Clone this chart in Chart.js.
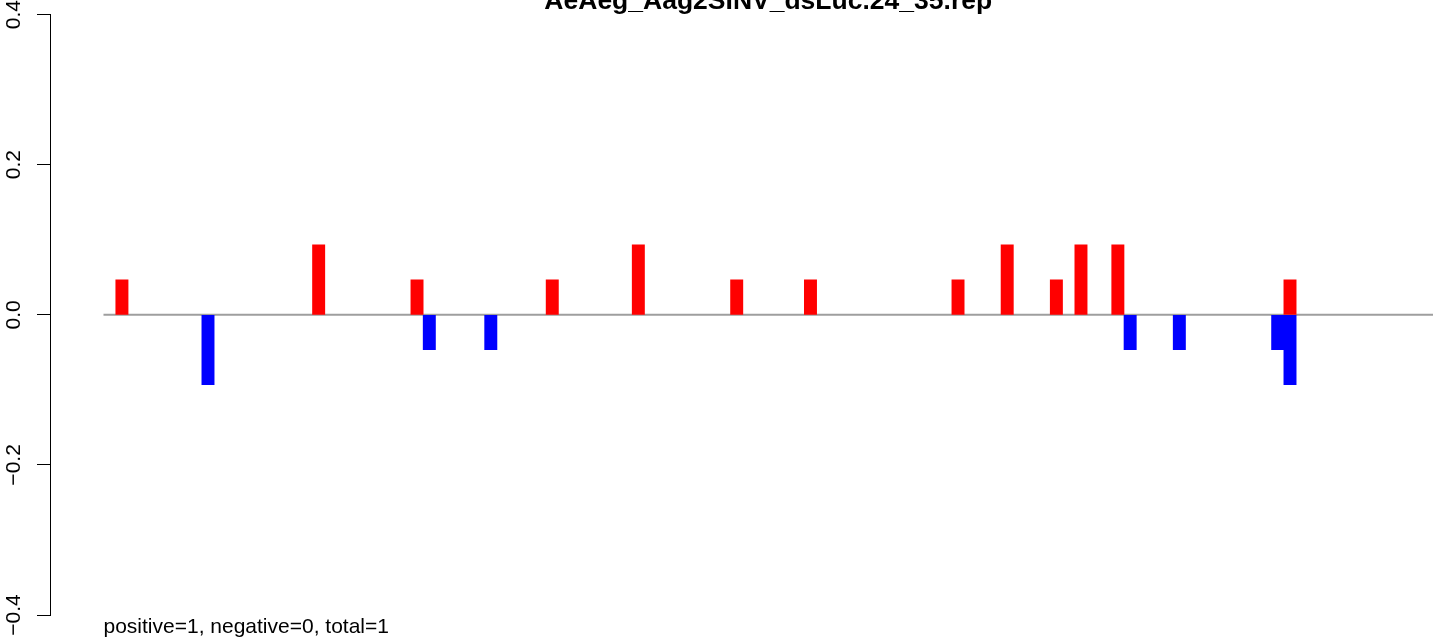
<!DOCTYPE html>
<html>
<head>
<meta charset="utf-8">
<script src="https://cdn.jsdelivr.net/npm/chart.js@4.4.0/dist/chart.umd.min.js"></script>
<style>
  html, body { margin: 0; padding: 0; background: #fff; }
  #wrap { position: relative; width: 1444px; height: 643px; }
</style>
</head>
<body>
<div id="wrap"><canvas id="myChart"></canvas></div>
<script>
const chartTitle = 'AeAeg_Aag2SINV_dsLuc.24_35.rep';
const countText = 'positive=1, negative=0, total=1';

// read positions and bar heights, red above the line, blue below
const positivePositions = [2, 18, 26, 37, 44, 52, 58, 70, 74, 78, 80, 83, 97];
const positiveValues = [0.0466, 0.0932, 0.0466, 0.0466, 0.0932, 0.0466, 0.0466, 0.0466, 0.0932, 0.0466, 0.0932, 0.0932, 0.0466];
const negativePositions = [9, 27, 32, 84, 88, 96, 97];
const negativeValues = [-0.0932, -0.0466, -0.0466, -0.0466, -0.0466, -0.0466, -0.0932];

const yTickValues = [-0.4, -0.2, 0, 0.2, 0.4];
const yTickLabels = ['\u22120.4', '\u22120.2', '0.0', '0.2', '0.4'];

// x range of the plot (axis sits left of the first slot)
const xMin = -3.85;
const xMax = 108.63;
const lineStart = 0.5;

const ctx = document.getElementById('myChart').getContext('2d');

function toPoints(xs, ys) {
  let pts = [];
  for (let i = 0; i < xs.length; i++) {
    pts.push({ x: xs[i], y: ys[i] });
  }
  return pts;
}

// zero line under the bars, title on top and the count line at the bottom
const extras = {
  id: 'extras',
  beforeDatasetsDraw(chart) {
    const { ctx, chartArea, scales } = chart;
    const y0 = scales.y.getPixelForValue(0);
    ctx.save();
    ctx.strokeStyle = '#9e9e9e';
    ctx.lineWidth = 2;
    ctx.beginPath();
    ctx.moveTo(scales.x.getPixelForValue(lineStart), y0);
    ctx.lineTo(chartArea.right, y0);
    ctx.stroke();
    ctx.restore();
  },
  afterDraw(chart) {
    const { ctx, chartArea, scales } = chart;
    const left = scales.x.getPixelForValue(lineStart);
    ctx.save();
    ctx.fillStyle = '#000';
    ctx.textBaseline = 'alphabetic';
    ctx.font = 'bold 26.5px "Liberation Sans", Arial, sans-serif';
    ctx.textAlign = 'center';
    ctx.fillText(chartTitle, (left + chartArea.right) / 2, 8.5);
    ctx.font = '21px "Liberation Sans", Arial, sans-serif';
    ctx.textAlign = 'left';
    ctx.fillText(countText, left, 632.5);
    ctx.restore();
  }
};

const myChart = new Chart(ctx, {
  type: 'bar',
  data: {
    datasets: [
      {
        label: 'positive',
        data: toPoints(positivePositions, positiveValues),
        backgroundColor: '#ff0000',
        borderWidth: 0,
        grouped: false,
        barPercentage: 1,
        categoryPercentage: 1,
      },
      {
        label: 'negative',
        data: toPoints(negativePositions, negativeValues),
        backgroundColor: '#0000ff',
        borderWidth: 0,
        grouped: false,
        barPercentage: 1,
        categoryPercentage: 1,
      },
    ],
  },
  options: {
    responsive: true,
    maintainAspectRatio: false,
    animation: false,
    layout: { padding: { top: 14, bottom: 28, right: 11, left: 0 } },
    plugins: {
      legend: { display: false },
      tooltip: { enabled: false },
      title: { display: false },
    },
    scales: {
      x: {
        type: 'linear',
        min: xMin,
        max: xMax,
        offset: false,
        display: false,
        ticks: { stepSize: 10 },
      },
      y: {
        min: -0.4,
        max: 0.4,
        afterBuildTicks(scale) {
          scale.ticks = yTickValues.map((v) => ({ value: v }));
        },
        afterFit(scale) {
          scale.width = 50;
        },
        grid: {
          drawOnChartArea: false,
          drawTicks: true,
          tickLength: 13,
          color: '#000',
          lineWidth: 1,
        },
        border: { display: true, color: '#000', width: 1 },
        ticks: {
          minRotation: 90,
          maxRotation: 90,
          crossAlign: 'center',
          padding: 2,
          color: '#000',
          font: { family: '"Liberation Sans", Arial, sans-serif', size: 21 },
          callback: (value) => {
            let i = yTickValues.findIndex((v) => Math.abs(v - value) < 1e-9);
            return i >= 0 ? yTickLabels[i] : '';
          },
        },
      },
    },
  },
  plugins: [extras],
});
</script>
</body>
</html>
